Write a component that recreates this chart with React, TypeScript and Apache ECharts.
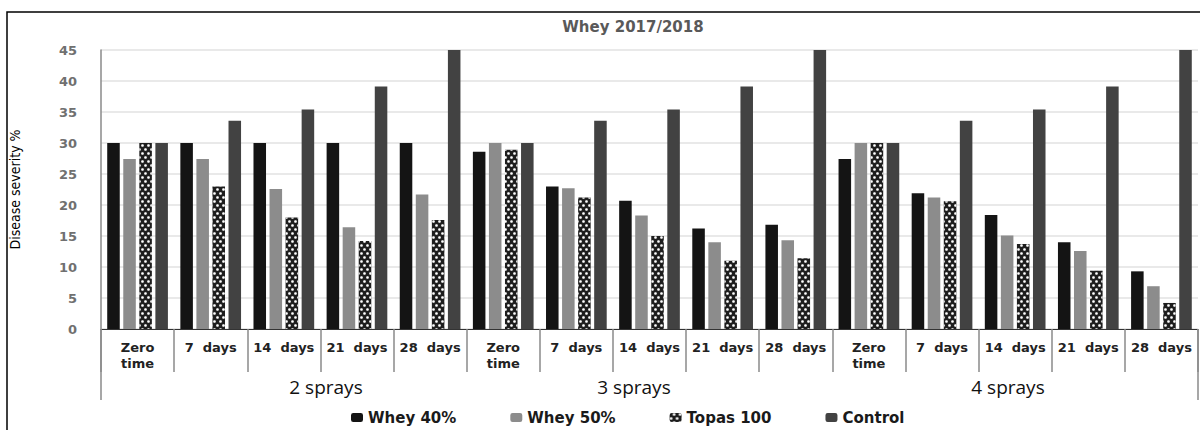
import React, { useEffect, useRef } from "react";
import * as echarts from "echarts";

// ---- data ----
const timePoints = ["Zero\ntime", "7  days", "14  days", "21  days", "28  days"];
const sprayGroups = ["2 sprays", "3 sprays", "4 sprays"];
const categories = sprayGroups.flatMap(() => timePoints);

const seriesNames = ["Whey 40%", "Whey 50%", "Topas 100", "Control"];
const whey40 = [30, 30, 30, 30, 30, 28.6, 23, 20.7, 16.2, 16.8, 27.4, 21.9, 18.4, 14, 9.3];
const whey50 = [27.4, 27.4, 22.6, 16.4, 21.7, 30, 22.7, 18.3, 14, 14.3, 30, 21.2, 15.1, 12.6, 6.9];
const topas100 = [30, 23, 18, 14.2, 17.6, 28.9, 21.2, 15, 11, 11.4, 30, 20.6, 13.7, 9.4, 4.2];
const control = [30, 33.6, 35.4, 39.1, 45, 30, 33.6, 35.4, 39.1, 45, 30, 33.6, 35.4, 39.1, 45];

const yMin = 0;
const yMax = 45;
const yStep = 5;

const chartTitle = "Whey 2017/2018";
const yAxisTitle = "Disease severity %";

// ---- layout (pixels) ----
const groupLabelX = [326, 634, 1008];
const groupLabelY = 387;

export default function App() {
  const ref = useRef<HTMLDivElement>(null);

  useEffect(() => {
    if (!ref.current) return;
    const chart = echarts.init(ref.current, undefined, { renderer: "svg" });

    const values = [whey40, whey50, topas100, control];
    const styles: any[] = [
      { color: "#141414" },
      { color: "#8c8c8c" },
      {
        color: "#1e1e1e",
        decal: {
          symbol: "circle",
          symbolSize: 0.9,
          color: "#ffffff",
          dashArrayX: [
            [3, 3],
            [0, 3, 3, 0],
          ],
          dashArrayY: [3, 1],
        },
      },
      { color: "#424242" },
    ];

    const option: any = {
      animation: false,
      title: {
        text: chartTitle,
        left: 628,
        top: 14,
        textAlign: "center",
        textStyle: {
          fontFamily: "DejaVu Sans",
          fontWeight: "bold",
          fontSize: 15,
          color: "#595959",
        },
      },
      legend: {
        data: seriesNames,
        left: 346,
        top: 405,
        itemWidth: 12,
        itemHeight: 9,
        itemGap: 54,
        textStyle: {
          fontFamily: "DejaVu Sans",
          fontWeight: "bold",
          fontSize: 15,
          color: "#1a1a1a",
        },
      },
      grid: { left: 100, right: 2, top: 50, bottom: 101 },
      xAxis: [
        {
          type: "category",
          data: categories,
          position: "bottom",
          axisLine: { show: true, lineStyle: { color: "#333", width: 1 } },
          axisTick: { show: true, length: 43, interval: 0, lineStyle: { color: "#8a8a8a", width: 1.5 } },
          axisLabel: {
            interval: 0,
            fontFamily: "DejaVu Sans",
            fontWeight: "bold",
            fontSize: 13,
            lineHeight: 16,
            color: "#222",
            margin: 10,
          },
          splitLine: { show: false },
        },
        {
          type: "category",
          data: [""],
          position: "bottom",
          axisLine: { show: false },
          axisTick: { show: true, length: 71, lineStyle: { color: "#8a8a8a", width: 1.5 } },
          axisLabel: { show: false },
          splitLine: { show: false },
        },
      ],
      yAxis: {
        type: "value",
        min: yMin,
        max: yMax,
        interval: yStep,
        axisLine: { show: true, lineStyle: { color: "#8a8a8a", width: 1.5 } },
        axisTick: { show: false },
        splitLine: { show: true, lineStyle: { color: "#e2e2e2", width: 1.5 } },
        axisLabel: {
          fontFamily: "DejaVu Sans",
          fontWeight: "bold",
          fontSize: 13,
          color: "#707070",
          margin: 24,
        },
        name: yAxisTitle,
        nameLocation: "middle",
        nameGap: 79,
        nameTextStyle: {
          fontFamily: "'DejaVu Sans Condensed', 'Liberation Sans', sans-serif",
          fontSize: 14,
          color: "#000",
        },
      },
      series: seriesNames.map((name, i) => ({
        name,
        type: "bar",
        xAxisIndex: 0,
        data: values[i],
        barGap: "28%",
        barCategoryGap: "17%",
        itemStyle: styles[i],
      })),
      graphic: [
        {
          type: "rect",
          silent: true,
          shape: { x: 7, y: 12, width: 1400, height: 700 },
          style: { fill: "none", stroke: "#000", lineWidth: 1.5 },
        },
        ...sprayGroups.map((g, i) => ({
          type: "text",
          silent: true,
          x: groupLabelX[i],
          y: groupLabelY,
          style: {
            text: g,
            fontFamily: "Open Sans",
            fontSize: 19,
            fill: "#111",
            align: "center",
            verticalAlign: "middle",
            textAlign: "center",
            textVerticalAlign: "middle",
          },
        })),
      ],
    };

    chart.setOption(option);
    return () => chart.dispose();
  }, []);

  return (
    <div
      ref={ref}
      style={{ position: "absolute", left: 0, top: 0, width: 1200, height: 430, background: "#fff" }}
    />
  );
}
